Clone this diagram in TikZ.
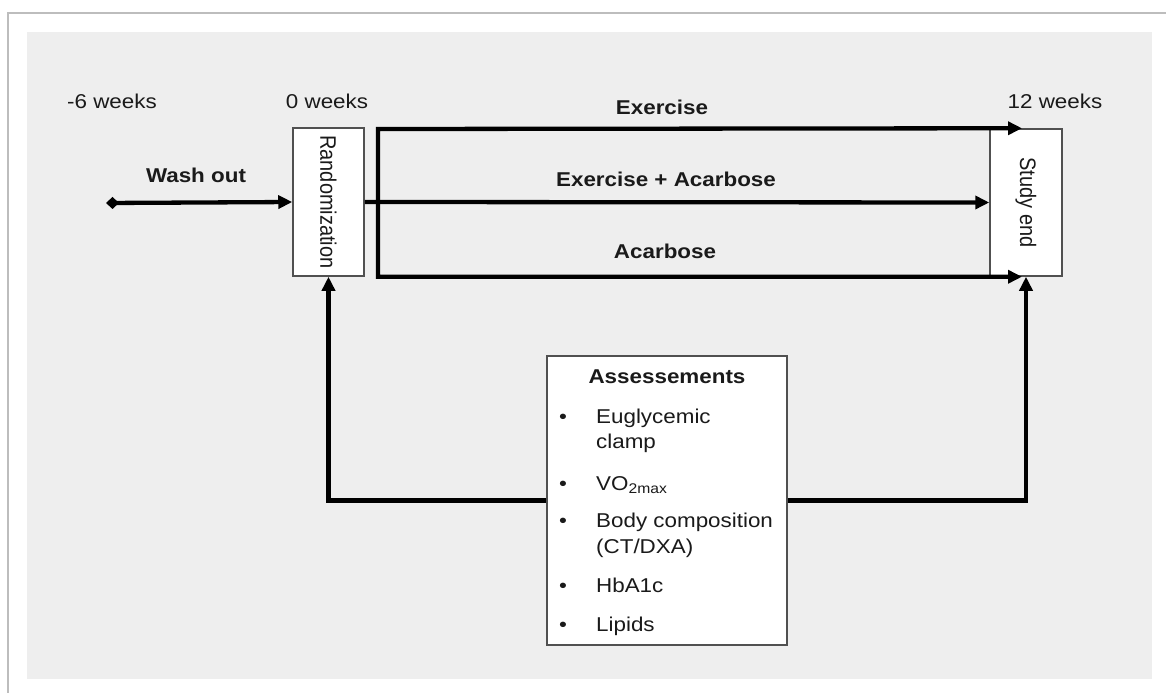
\documentclass[tikz,border=0pt]{standalone}
\usepackage{fontspec}
\setmainfont{Liberation Sans}
\usetikzlibrary{arrows.meta}

\definecolor{panelgray}{HTML}{EEEEEE}
\definecolor{framegray}{HTML}{BDBDBD}
\definecolor{boxedge}{HTML}{505050}
\definecolor{inkblack}{HTML}{1A1A1A}

\begin{document}
\begin{tikzpicture}[x=1pt,y=-1pt,
  txt/.style={font=\fontsize{20}{25.6}\selectfont,text=inkblack,inner sep=0pt,xscale=1.12},
  bold/.style={txt,font=\fontsize{20}{25.6}\selectfont\bfseries},
  stage/.style={draw=boxedge,line width=1.5pt,fill=white,minimum width=71pt,minimum height=148pt,inner sep=0pt},
  flow/.style={line width=4.3pt,-{Triangle[length=14pt,width=13pt]}},
  twoway/.style={line width=4.3pt,{Triangle[length=14pt,width=13pt]}-{Triangle[length=14pt,width=13pt]}}]
\useasboundingbox (0,0) rectangle (1166,693);
\draw[framegray,line width=2pt] (1166,13) -- (8,13) -- (8,693);
\fill[panelgray] (27,32) rectangle (1152,679);

% boxes
\node[stage] (rand) at (328.5,202) {};
\node[stage,minimum width=72pt,minimum height=147pt] (studyend) at (1026,202.5) {};
\node[stage,minimum width=240pt,minimum height=289pt] (assess) at (667,500.5) {};
\node[txt,rotate=-90] (randlabel) at (rand) {Randomization};
\node[txt,rotate=-90] (studylabel) at (studyend) {Study end};

% time line
\node[txt,anchor=base] (wkminus) at (112,108) {-6 weeks};
\node[txt,anchor=base] (wkzero) at (327,108) {0 weeks};
\node[txt,anchor=base] (wktwelve) at (1055,108) {12 weeks};
\node[bold,anchor=base] (washlabel) at (196,182) {Wash out};
\node[bold,anchor=base] (exlabel) at (662,114) {Exercise};
\node[bold,anchor=base] (exaclabel) at (666,186) {Exercise + Acarbose};
\node[bold,anchor=base] (aclabel) at (665,258) {Acarbose};

\coordinate (washstart) at (106,203);
\coordinate (armtop) at (378,129);
\draw[flow,{Diamond[length=13pt,width=12pt]}-{Triangle[length=14pt,width=13pt]}] (washstart) -- (rand.west);
\draw[flow] (rand.east) -- (studyend.west);
\draw[twoway] ([xshift=-4pt]studyend.north) -- (armtop) |- ([xshift=-4pt]studyend.south);
\draw[flow] (assess.west) -| (rand.south);
\draw[flow] (assess.east) -| (studyend.south);

% assessments
\node[bold,anchor=base] (assesstitle) at (667,383) {Assessements};
\node[txt,anchor=base west] (assesslist) at (559,423) {\begin{tabular}[t]{@{}p{33pt}@{}l@{}}
\textbullet & Euglycemic\\
 & clamp\\[16.4pt]
\textbullet & VO\textsubscript{2max}\\[11.4pt]
\textbullet & Body composition\\
 & (CT/DXA)\\[13.4pt]
\textbullet & HbA1c\\[13.4pt]
\textbullet & Lipids
\end{tabular}};
\end{tikzpicture}
\end{document}
